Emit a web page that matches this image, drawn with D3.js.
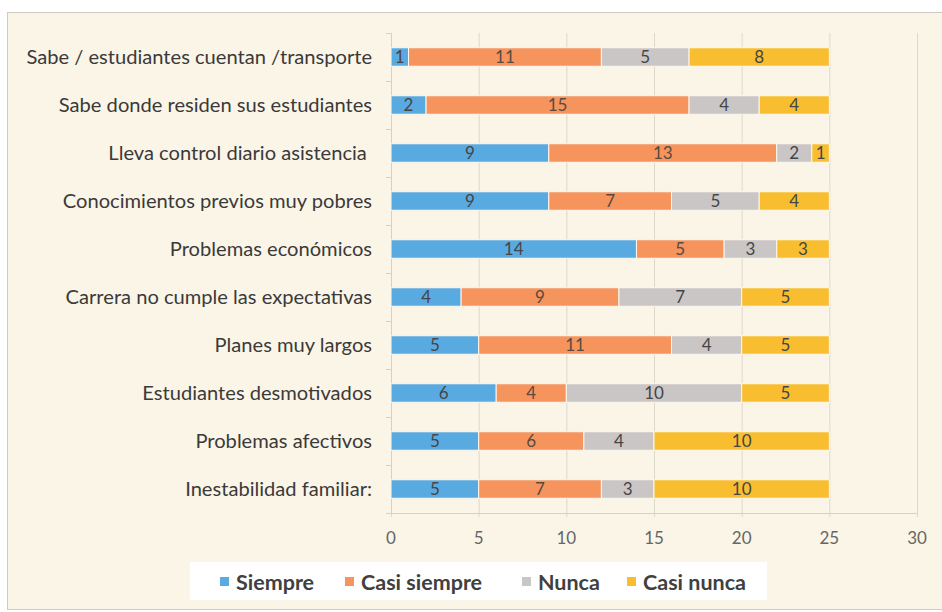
<!DOCTYPE html>
<html><head><meta charset="utf-8">
<script src="https://cdn.jsdelivr.net/npm/d3@7"></script>
<style>html,body{margin:0;padding:0;background:#fff;}svg{display:block;}</style>
</head><body>
<script>
const categories = [
  "Sabe / estudiantes cuentan /transporte",
  "Sabe donde residen sus estudiantes",
  "Lleva control diario asistencia ",
  "Conocimientos previos muy pobres",
  "Problemas económicos",
  "Carrera no cumple las expectativas",
  "Planes muy largos",
  "Estudiantes desmotivados",
  "Problemas afectivos",
  "Inestabilidad familiar:"
];
const seriesNames = ["Siempre", "Casi siempre", "Nunca", "Casi nunca"];
const siempre     = [1, 2, 9, 9, 14, 4, 5, 6, 5, 5];
const casiSiempre = [11, 15, 13, 7, 5, 9, 11, 4, 6, 7];
const nunca       = [5, 4, 2, 5, 3, 7, 4, 10, 4, 3];
const casiNunca   = [8, 4, 1, 4, 3, 5, 5, 5, 10, 10];
const xTicks = [0, 5, 10, 15, 20, 25, 30];
const colors = ["#5aaae2", "#f5945c", "#cac6c5", "#f8be30"];

const W = 942, H = 612;
const bg = "#fbf5e7";
const svg = d3.select("body").append("svg").attr("width", W).attr("height", H);
svg.append("rect").attr("width", W).attr("height", H).attr("fill", "#ffffff");
svg.append("rect").attr("x", 7.5).attr("y", 12.5).attr("width", W).attr("height", 597)
  .attr("fill", bg).attr("stroke", "#cfcbc3").attr("stroke-width", 1);

const x = d3.scaleLinear().domain([0, 30]).range([391, 917]);
const y = d3.scaleBand().domain(categories).range([33, 513]).paddingInner(0.615).paddingOuter(0.3075);

// gridlines
svg.append("g").selectAll("line").data(xTicks).join("line")
  .attr("x1", d => x(d) + 0.5).attr("x2", d => x(d) + 0.5)
  .attr("y1", 33).attr("y2", 517)
  .attr("stroke", "#ddd8cc").attr("stroke-width", 1);

// x axis line
svg.append("line").attr("x1", 391).attr("x2", 917).attr("y1", 513.5).attr("y2", 513.5)
  .attr("stroke", "#d6d1c6");
// y axis line + ticks at category boundaries
svg.append("line").attr("x1", 391.5).attr("x2", 391.5).attr("y1", 33).attr("y2", 513)
  .attr("stroke", "#d6d1c6");
const step = y.step();
svg.append("g").selectAll("line").data(d3.range(categories.length + 1)).join("line")
  .attr("x1", 386).attr("x2", 391)
  .attr("y1", i => 33 + i * step + 0.5).attr("y2", i => 33 + i * step + 0.5)
  .attr("stroke", "#d6d1c6");

// x tick labels
svg.append("g").selectAll("text").data(xTicks).join("text")
  .attr("x", d => x(d)).attr("y", 538).attr("dy", "0.35em")
  .attr("text-anchor", "middle")
  .attr("font-family", "Lato, 'Open Sans', sans-serif").attr("font-size", 17)
  .attr("fill", "#666666").text(d => d);

// category labels
const labG = svg.append("g");
const labs = labG.selectAll("text").data(categories).join("text")
  .attr("x", 372).attr("y", d => y(d) + y.bandwidth() / 2).attr("dy", "0.35em")
  .attr("text-anchor", "end")
  .attr("font-family", "Lato, 'Open Sans', sans-serif").attr("font-size", 18)
  .attr("fill", "#3a3a3a").attr("xml:space", "preserve").text(d => d);
const maxW = d3.max(labs.nodes(), n => n.getComputedTextLength());
const fs = 18 * 346 / maxW;
labs.attr("font-size", fs.toFixed(2));

// stacked data
const rows = categories.map((c, i) => ({cat: c, v: [siempre[i], casiSiempre[i], nunca[i], casiNunca[i]]}));
const stackData = d3.stack().keys([0, 1, 2, 3]).value((d, k) => d.v[k])(rows);

const barG = svg.append("g");
stackData.forEach((layer, si) => {
  const g = barG.append("g");
  g.selectAll("rect").data(layer).join("rect")
    .attr("x", d => x(d[0])).attr("width", d => x(d[1]) - x(d[0]))
    .attr("y", d => y(d.data.cat)).attr("height", y.bandwidth())
    .attr("fill", colors[si]).attr("stroke", "#fdf8ee").attr("stroke-width", 1);
  g.selectAll("text").data(layer).join("text")
    .attr("x", d => (x(d[0]) + x(d[1])) / 2)
    .attr("y", d => y(d.data.cat) + y.bandwidth() / 2).attr("dy", "0.36em")
    .attr("text-anchor", "middle")
    .attr("font-family", "Lato, 'Open Sans', sans-serif").attr("font-size", 17)
    .attr("fill", si === 1 ? "#5a4a40" : "#454545")
    .text(d => d[1] - d[0]);
});

// legend
svg.append("rect").attr("x", 190).attr("y", 562).attr("width", 577).attr("height", 38).attr("fill", "#ffffff");
const legX = [220, 345, 522, 627];
const lg = svg.append("g");
seriesNames.forEach((s, i) => {
  lg.append("rect").attr("x", legX[i]).attr("y", 577).attr("width", 9).attr("height", 9).attr("fill", colors[i]);
  lg.append("text").attr("x", legX[i] + 16).attr("y", 582).attr("dy", "0.35em")
    .attr("font-family", "Lato, 'Open Sans', sans-serif").attr("font-weight", "bold").attr("font-size", 21.5)
    .attr("fill", "#404040").text(s);
});
</script>
</body></html>
